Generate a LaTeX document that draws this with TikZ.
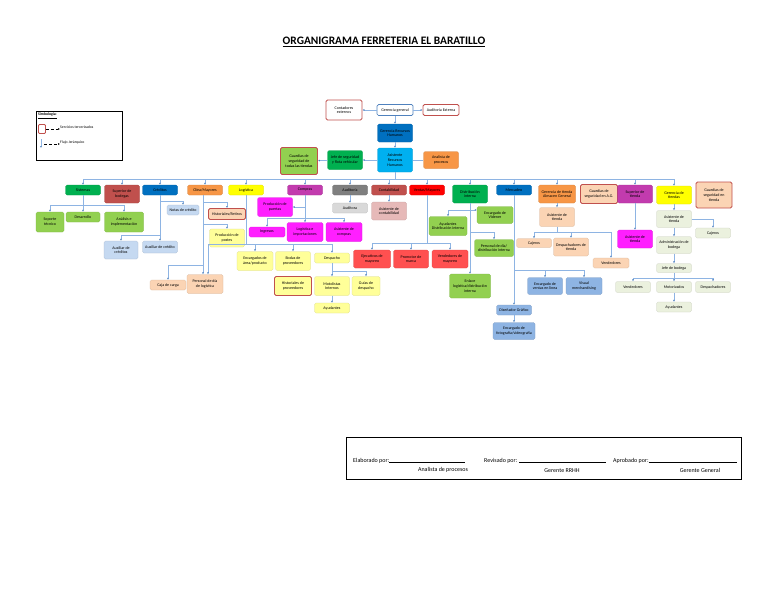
\documentclass[tikz,border=0pt]{standalone}
\usepackage{fontspec}
\setmainfont{Carlito}
\usepackage{tikz}
\usetikzlibrary{arrows.meta,positioning,calc}
\definecolor{lineBlue}{HTML}{8EB4E3}
\definecolor{tipBlue}{HTML}{4F81BD}
\definecolor{extRed}{HTML}{C0504D}
\definecolor{azulOsc}{HTML}{0070C0}
\definecolor{celeste}{HTML}{00B0F0}
\definecolor{naranja}{HTML}{F79646}
\definecolor{verde}{HTML}{00B050}
\definecolor{verdeClaro}{HTML}{92D050}
\definecolor{rojoOsc}{HTML}{C0504D}
\definecolor{amarillo}{HTML}{FFFF00}
\definecolor{amarilloClaro}{HTML}{FFFF99}
\definecolor{morado}{HTML}{C23BAE}
\definecolor{magenta2}{HTML}{FF1FFF}
\definecolor{gris}{HTML}{7F7F7F}
\definecolor{grisClaro}{HTML}{D9D9D9}
\definecolor{rosa}{HTML}{E6B9B8}
\definecolor{rojo}{HTML}{FF0000}
\definecolor{rojoClaro}{HTML}{FF5050}
\definecolor{azulClaro}{HTML}{C5D9F1}
\definecolor{azulMedio}{HTML}{8EB4E3}
\definecolor{durazno}{HTML}{FBD4B4}
\definecolor{crema}{HTML}{EBF1DE}
\tikzset{
  org/box/.style={rounded corners=1.5pt, fill=#1, draw=#1!85!black, line width=0.3pt, minimum width=35pt, minimum height=10pt, align=center, inner sep=0.4pt, font=\fontsize{4}{4.7}\selectfont},
  org/ext/.style={org/box=#1, draw=extRed, line width=0.9pt},
  org/line/.style={draw=lineBlue, line width=0.7pt},
  org/arr/.style={org/line, -{Latex[length=2pt,width=1.8pt,color=tipBlue]}},
  org/legtext/.style={font=\fontsize{3.8}{4.5}\selectfont, inner sep=0pt, anchor=west},
  org/sign/.style={font=\fontsize{6}{7}\selectfont, inner sep=0pt}
}

\begin{document}
\begin{tikzpicture}[x=1pt, y=-1pt]
  \useasboundingbox (0,0) rectangle (768,594);
  \node[font=\bfseries\fontsize{11.4}{13}\selectfont] (title) at (384,42) {\underline{ORGANIGRAMA FERRETERIA EL BARATILLO}};

  % simbologia
  \node[draw=black, line width=0.7pt, minimum width=86pt, minimum height=49pt, anchor=north west, inner sep=0pt] (legend) at (36,111) {};
  \node[org/legtext, anchor=north west, font=\bfseries\fontsize{3.8}{4.5}\selectfont] (legTitle) at (38,113) {\underline{Simbología:}};
  \node[draw=extRed, rounded corners=1pt, line width=0.8pt, minimum width=7pt, minimum height=9pt, inner sep=0pt] (legExt) at (42,129) {};
  \node[org/legtext] (legExtTxt) at (60,127) {Servicios tercerizados};
  \draw[densely dashed, line width=0.4pt, -{Latex[length=2pt,width=1.8pt]}] (legExt.east) -- (legExtTxt.west |- legExt.east);
  \coordinate (legFlowA) at (41,139);
  \coordinate (legFlowB) at (41,148);
  \draw[org/arr] (legFlowA) -- (legFlowB);
  \node[org/legtext] (legFlowTxt) at (60,143) {Flujo Jerárquico};
  \draw[densely dashed, line width=0.4pt, -{Latex[length=2pt,width=1.8pt]}] (44,144) -- (legFlowTxt.west |- 0,144);

  % direccion
  \node[org/ext=white, minimum width=36pt, minimum height=20pt] (contExt) at (344,110) {Contadores\\externos};
  \node[org/box=white, draw=tipBlue, line width=0.7pt, minimum width=36pt, minimum height=11pt] (gerGen) at (395,110) {Gerencia general};
  \node[org/ext=white, minimum width=36pt, minimum height=11pt] (audExt) at (441,110) {Auditoría Externa};
  \node[org/box=azulOsc, minimum height=18pt] (gerRH) at (395,133) {Gerencia Recursos\\Humanos};
  \node[org/box=celeste, minimum height=24pt] (asisRH) at (395,160) {Asistente\\Recursos\\Humanos};
  \node[org/box=naranja, minimum height=17pt] (anaProc) at (441,160) {Analista de\\procesos};
  \node[org/box=verde, minimum height=19pt] (jefeSeg) at (345,160) {Jefe de seguridad\\y flota vehicular};
  \node[org/ext=verdeClaro, minimum width=37pt, minimum height=27pt] (guardTodas) at (299,161) {Guardias de\\seguridad de\\todas las tiendas};
  \draw[org/arr] (gerGen) -- (contExt);
  \draw[org/arr] (gerGen) -- (audExt);
  \draw[org/arr] (gerGen) -- (gerRH);
  \draw[org/arr] (gerRH) -- (asisRH);
  \draw[org/arr] (asisRH) -- (jefeSeg);
  \draw[org/arr] (jefeSeg) -- (guardTodas);
  \draw[org/line] (asisRH) -- (anaProc);

  % areas
  \node[org/box=verde] (sis) at (83,190) {Sistemas};
  \node[org/box=rojoOsc, minimum height=18pt] (supBod) at (122,194) {Superior de\\bodegas};
  \node[org/box=azulOsc] (cred) at (160,190) {Créditos};
  \node[org/box=naranja] (cliMay) at (205,190) {Clíea/Mayores};
  \node[org/box=amarillo] (logis) at (246,190) {Logística};
  \node[org/box=morado] (compras) at (305,190) {Compras};
  \node[org/box=gris] (audit) at (350,190) {Auditoría};
  \node[org/box=rojoOsc] (contab) at (389,190) {Contabilidad};
  \node[org/box=rojo] (ventMay) at (427,190) {Ventas/Mayores};
  \node[org/box=verde, minimum height=18pt] (distInt) at (470,194) {Distribución\\interna};
  \node[org/box=azulOsc] (merc) at (514,190) {Mercadeo};
  \node[org/box=naranja, minimum width=37pt, minimum height=18pt] (gerTAG) at (557,194) {Gerencia de tienda\\Almacen General};
  \node[org/ext=durazno, minimum width=37pt, minimum height=19pt] (guardAG) at (599,194) {Guardias de\\seguridad en A.G.};
  \node[org/box=morado, minimum height=18pt] (supTienda) at (635,194) {Superior de\\tienda};
  \node[org/box=amarillo, minimum height=18pt] (gerTiendas) at (674,195) {Gerencia de\\tiendas};
  \node[org/ext=durazno, minimum width=36pt, minimum height=26pt] (guardTienda) at (714,195) {Guardias de\\seguridad en\\tienda};
  \coordinate (busMain) at (395,179);
  \draw[org/line] (asisRH) -- (busMain);
  \draw[org/line] (busMain -| sis.north) -- (busMain -| gerTiendas.north);
  \foreach \n in {sis,supBod,cred,cliMay,logis,compras,audit,contab,ventMay,distInt,merc,gerTAG,supTienda,gerTiendas}
    \draw[org/arr] (busMain -| \n.north) -- (\n.north);

  % sistemas
  \node[org/box=verdeClaro, minimum width=28pt, minimum height=20pt] (soporte) at (50,222) {Soporte\\técnico};
  \node[org/box=verdeClaro, minimum width=34pt] (desarrollo) at (83,217) {Desarrollo};
  \node[org/box=verdeClaro, minimum width=39pt, minimum height=20pt] (analisis) at (124,222) {Análisis e\\implementación};
  \coordinate (sisBus) at (83,205);
  \draw[org/line] (sis) -- (sisBus);
  \draw[org/line] (sisBus -| soporte.north) -- (sisBus -| analisis.north);
  \foreach \n in {soporte,desarrollo,analisis}
    \draw[org/arr] (sisBus -| \n.north) -- (\n.north);

  % creditos
  \node[org/box=azulClaro, minimum width=32pt] (notasCred) at (183,210) {Notas de crédito};
  \node[org/box=azulClaro, minimum width=34pt, minimum height=18pt] (auxCreds) at (121,250) {Auxiliar de\\créditos};
  \node[org/box=azulClaro, minimum height=12pt] (auxCred) at (160,247) {Auxiliar de crédito};
  \coordinate (credA) at (160,201);
  \coordinate (credB) at (160,235);
  \draw[org/line] (cred) -- (credB);
  \draw[org/arr] (credA) -| (notasCred.north);
  \draw[org/arr] (credB) -| (auxCreds.north);
  \draw[org/arr] (credB) -- (auxCred.north);

  % clientes mayores
  \node[org/ext=durazno, minimum width=37pt, minimum height=11pt] (histRet) at (227,214) {Historiales/Retiros};
  \node[org/box=amarilloClaro, minimum height=18pt] (prodPostes) at (227,238) {Producción de\\postes};
  \node[org/box=durazno, minimum width=36pt] (cajaCarga) at (168,285) {Caja de carga};
  \node[org/box=durazno, minimum width=36pt, minimum height=19pt] (persDiaLog) at (205,284) {Personal de día\\de logística};
  \coordinate (cliA) at (203,202);
  \coordinate (cliB) at (203,224);
  \coordinate (cliC) at (203,265);
  \draw[org/line] (cliMay.south -| cliA) -- (cliC);
  \draw[org/arr] (cliA) -| (histRet.north);
  \draw[org/arr] (cliB) -| (prodPostes.north);
  \draw[org/arr] (cliC) -| (cajaCarga.north);
  \draw[org/arr] (cliC) -- (cliC |- persDiaLog.north);

  % logistica
  \node[org/box=amarilloClaro, minimum width=36pt, minimum height=19pt] (encArea) at (255,261) {Encargados de\\área/producto};
  \node[org/box=amarilloClaro, minimum height=19pt] (bodProv) at (293,261) {Bodas de\\proveedores};
  \node[org/box=amarilloClaro] (despacho) at (332,258) {Despacho};
  \node[org/ext=amarilloClaro, minimum width=37pt, minimum height=19pt] (histProv) at (293,286) {Historiales de\\proveedores};
  \node[org/box=amarilloClaro, minimum height=19pt] (motoInt) at (332,286) {Motolistas\\Internos};
  \node[org/box=amarilloClaro, minimum width=28pt, minimum height=19pt] (guiasDesp) at (366,286) {Guías de\\despacho};
  \node[org/box=amarilloClaro] (ayudLog) at (332,308) {Ayudantes};
  \coordinate (logBus) at (246,244);
  \coordinate (logPers) at (208,244);
  \draw[org/line] (logis) -- (logBus);
  \draw[org/line] (logPers) -- (logBus -| despacho.north);
  \draw[org/arr] (logPers) -- (logPers |- persDiaLog.north);
  \foreach \n in {encArea,bodProv,despacho}
    \draw[org/arr] (logBus -| \n.north) -- (\n.north);
  \coordinate (despBus) at (332,271);
  \draw[org/line] (despacho) -- (despBus);
  \draw[org/line] (despBus) -- (despBus -| guiasDesp.north);
  \draw[org/arr] (despBus) -- (motoInt.north);
  \draw[org/arr] (despBus -| guiasDesp.north) -- (guiasDesp.north);
  \draw[org/arr] (motoInt) -- (ayudLog);

  % compras
  \node[org/box=magenta2, minimum height=19pt] (prodPuertas) at (275,207) {Producción de\\puertas};
  \node[org/box=magenta2, minimum width=36pt] (ingresos) at (267,232) {Ingresos};
  \node[org/box=magenta2, minimum width=36pt, minimum height=19pt] (logImp) at (305,232) {Logística e\\importaciones};
  \node[org/box=magenta2, minimum width=36pt, minimum height=19pt] (asisCompras) at (344,232) {Asistente de\\compras};
  \coordinate (compA) at (305,207);
  \coordinate (compBus) at (305,218);
  \draw[org/line] (compras) -- (compBus);
  \draw[org/arr] (compA) -- (prodPuertas.east);
  \draw[org/line] (compBus -| ingresos.north) -- (compBus -| asisCompras.north);
  \foreach \n in {ingresos,logImp,asisCompras}
    \draw[org/arr] (compBus -| \n.north) -- (\n.north);

  % auditoria y contabilidad
  \node[org/box=grisClaro] (auditora) at (350,208) {Auditora};
  \node[org/box=rosa, minimum height=18pt] (asisContab) at (389,211) {Asistente de\\contabilidad};
  \draw[org/arr] (audit) -- (auditora);
  \draw[org/arr] (contab) -- (asisContab);

  % ventas mayores
  \node[org/box=rojoClaro, minimum width=37pt, minimum height=18pt] (ejecMay) at (372,259) {Ejecutivos de\\mayoreo};
  \node[org/box=rojoClaro, minimum height=18pt] (promMarca) at (411,259) {Promotor de\\marca};
  \node[org/box=rojoClaro, minimum width=36pt, minimum height=18pt] (vendMay) at (450,259) {Vendedores de\\mayoreo};
  \coordinate (ventBus) at (427,243);
  \draw[org/line] (ventMay) -- (ventBus);
  \draw[org/line] (ventBus -| ejecMay.north) -- (ventBus -| vendMay.north);
  \foreach \n in {ejecMay,promMarca,vendMay}
    \draw[org/arr] (ventBus -| \n.north) -- (\n.north);

  % distribucion interna
  \node[org/box=verdeClaro, minimum width=38pt, minimum height=19pt] (ayudDist) at (448,226) {Ayudantes\\Distribución interna};
  \node[org/box=verdeClaro, minimum width=36pt, minimum height=17pt] (encVid) at (495,215) {Encargado de\\Videner};
  \node[org/box=verdeClaro, minimum width=39pt, minimum height=17pt] (persDiaDist) at (494,248) {Personal de día/\\distribución interna};
  \node[org/box=verdeClaro, minimum width=41pt, minimum height=24pt] (enlace) at (470,286) {Enlace\\logística/distribución\\interna};
  \coordinate (distA) at (470,210);
  \coordinate (distB) at (470,232);
  \draw[org/arr] (distInt) -- (enlace);
  \draw[org/arr] (distA) -| (ayudDist.north);
  \draw[org/arr] (distA) -- (distA -| encVid.west);
  \draw[org/arr] (distB) -| (persDiaDist.north);

  % mercadeo
  \node[org/box=azulMedio, minimum height=17pt] (encVentas) at (545,286) {Encargado de\\ventas en línea};
  \node[org/box=azulMedio, minimum width=36pt, minimum height=17pt] (visualMerch) at (584,286) {Visual\\merchandising};
  \node[org/box=azulMedio] (disGraf) at (514,310) {Diseñador Gráfico};
  \node[org/box=azulMedio, minimum width=42pt, minimum height=17pt] (encFoto) at (514,331) {Encargado de\\fotografía/videografía};
  \coordinate (mercBus) at (514,270);
  \draw[org/arr] (merc) -- (disGraf);
  \draw[org/line] (mercBus) -- (mercBus -| visualMerch.north);
  \draw[org/arr] (mercBus -| encVentas.north) -- (encVentas.north);
  \draw[org/arr] (mercBus -| visualMerch.north) -- (visualMerch.north);
  \draw[org/arr] (disGraf) -- (encFoto);

  % gerencia de tienda almacen general
  \node[org/box=durazno, minimum height=19pt] (asisTAG) at (557,217) {Asistente de\\tienda};
  \node[org/box=durazno, minimum height=9pt] (cajAG) at (534,243) {Cajeros};
  \node[org/box=durazno, minimum height=18pt] (despAG) at (571,247) {Despachadores de\\tienda};
  \node[org/box=durazno, minimum width=36pt] (vendAG) at (611,263) {Vendedores};
  \coordinate (tagBus) at (557,232);
  \draw[org/arr] (gerTAG) -- (asisTAG);
  \draw[org/line] (asisTAG) -- (tagBus);
  \draw[org/line] (tagBus -| cajAG.north) -- (tagBus -| vendAG.north);
  \foreach \n in {cajAG,despAG,vendAG}
    \draw[org/arr] (tagBus -| \n.north) -- (\n.north);

  % superior de tienda
  \node[org/box=magenta2, minimum height=18pt] (asisSup) at (635,239) {Asistente de\\tienda};
  \draw[org/arr] (supTienda) -- (asisSup);

  % gerencia de tiendas
  \node[org/box=crema, minimum height=17pt] (asisT) at (674,219) {Asistente de\\tienda};
  \node[org/box=crema] (cajT) at (713,233) {Cajeros};
  \node[org/box=crema, minimum height=17pt] (adminBod) at (674,245) {Administración de\\bodega};
  \node[org/box=crema, minimum height=9pt] (jefeBod) at (674,268) {Jefe de bodega};
  \node[org/box=crema, minimum height=11pt] (vendT) at (633,287) {Vendedores};
  \node[org/box=crema, minimum height=11pt] (motoT) at (674,287) {Motorizados};
  \node[org/box=crema, minimum height=11pt] (despT) at (713,287) {Despachadores};
  \node[org/box=crema] (ayudT) at (674,307) {Ayudantes};
  \coordinate (gtBus) at (674,278);
  \draw[org/arr] (gerTiendas) -- (asisT);
  \draw[org/arr] (asisT.east) -| (cajT.north);
  \draw[org/arr] (asisT) -- (adminBod);
  \draw[org/arr] (adminBod) -- (jefeBod);
  \draw[org/line] (jefeBod) -- (gtBus);
  \draw[org/line] (gtBus -| vendT.north) -- (gtBus -| despT.north);
  \foreach \n in {vendT,motoT,despT}
    \draw[org/arr] (gtBus -| \n.north) -- (\n.north);
  \draw[org/arr] (motoT) -- (ayudT);

  % firmas
  \node[draw=black, line width=0.8pt, minimum width=395pt, minimum height=42pt, anchor=north west, inner sep=0pt] (firmas) at (346,437) {};
  \node[org/sign, anchor=west] (elab) at (353,461) {Elaborado por:\rule{76pt}{0.5pt}};
  \node[org/sign, anchor=west] (revis) at (484,461) {Revisado por: \rule{87pt}{0.5pt}};
  \node[org/sign, anchor=west] (aprob) at (613,461) {Aprobado por:\rule{88pt}{0.5pt}};
  \node[org/sign] (elabCargo) at (443,470) {Analista de procesos};
  \node[org/sign] (revisCargo) at (562,471) {Gerente RRHH};
  \node[org/sign] (aprobCargo) at (700,470) {Gerente General};
\end{tikzpicture}
\end{document}
